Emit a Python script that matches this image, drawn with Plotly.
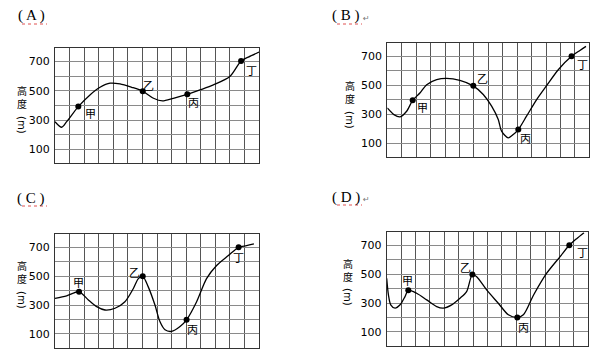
import plotly.graph_objects as go

# ---- data (x in grid-column units, y = height in m) ----
a_x = [0, 0.46, 0.8, 1.6, 2.4, 3.09, 3.78, 4.46, 5.26, 6.02, 6.76, 7.37, 8.12, 9.08, 9.95, 10.87, 12.0, 12.77, 13.27, 14]
a_y = [289, 251, 289, 392, 472, 524, 552, 547, 524, 497, 449, 431, 449, 476, 506, 540, 597, 703, 730, 764]
a_pts_x = [1.6, 6.02, 9.08, 12.77]
a_pts_y = [392, 497, 476, 703]

b_x = [0, 0.46, 0.88, 1.34, 1.76, 2.26, 2.73, 3.42, 4.11, 5.03, 5.96, 6.65, 7.23, 7.69, 7.92, 8.38, 8.73, 9.08, 9.65, 10.35, 11.04, 11.85, 12.77, 13.35, 13.77]
b_y = [345, 299, 283, 322, 397, 448, 505, 540, 549, 535, 497, 437, 357, 265, 185, 139, 162, 196, 288, 402, 498, 608, 700, 741, 769]
b_pts_x = [1.76, 5.96, 9.08, 12.77]
b_pts_y = [397, 497, 196, 700]

c_x = [0, 0.8, 1.65, 2.29, 2.86, 3.43, 4.12, 4.8, 5.38, 5.72, 6.02, 6.4, 6.86, 7.2, 7.55, 8.0, 8.58, 9.03, 9.72, 10.4, 11.09, 11.9, 12.6, 13.15, 13.65]
c_y = [346, 364, 392, 335, 289, 266, 278, 323, 415, 483, 499, 426, 300, 186, 129, 118, 152, 198, 323, 483, 574, 643, 700, 711, 723]
c_pts_x = [1.65, 6.02, 9.03, 12.6]
c_pts_y = [392, 499, 198, 700]

d_x = [0, 0.12, 0.28, 0.58, 0.93, 1.27, 1.5, 2.08, 2.78, 3.47, 3.93, 4.51, 5.09, 5.55, 5.95, 6.25, 6.94, 7.75, 8.45, 9.07, 9.49, 10.2, 11.1, 12.03, 12.68, 13.19, 13.7]
d_y = [471, 357, 288, 265, 288, 345, 389, 368, 322, 276, 265, 288, 334, 379, 498, 482, 391, 299, 219, 201, 219, 356, 505, 620, 700, 746, 787]
d_pts_x = [1.5, 5.95, 9.07, 12.68]
d_pts_y = [389, 498, 201, 700]

point_names = ["甲", "乙", "丙", "丁"]
panel_titles = ["( A )", "( B )", "( C )", "( D )"]
y_tickvals = [100, 200, 300, 400, 500, 600, 700]
y_ticktext = ["100", "", "300", "", "500", "", "700"]

# the page body has an 8px default margin; size the figure to the remaining area
OFF = 8
W, H = 600 - OFF, 357 - OFF
def px(x): return (x - OFF) / W
def py(y): return 1 - (y - OFF) / H

# panel geometry (window pixels): left, right, top, bottom
panels = [
    dict(x=a_x, y=a_y, px_=a_pts_x, py_=a_pts_y, box=(55, 259, 48.3, 163.3),
         offs=[(12, -6), (6, 6), (6, -8), (10, -9)],
         title=(31, 16), ytitle=(22, 97, 125), enter=False),
    dict(x=b_x, y=b_y, px_=b_pts_x, py_=b_pts_y, box=(387.3, 589.3, 43.3, 157.3),
         offs=[(10, -7), (9, 8), (7, -8), (11, -8)],
         title=(346, 16), ytitle=(350, 92, 120), enter=True),
    dict(x=c_x, y=c_y, px_=c_pts_x, py_=c_pts_y, box=(55, 259, 234.3, 347.7),
         offs=[(-1, 10), (-8, 4), (6, -9), (0, -10)],
         title=(31, 198), ytitle=(22, 272, 300), enter=False),
    dict(x=d_x, y=d_y, px_=d_pts_x, py_=d_pts_y, box=(386.7, 588.3, 232.3, 345.7),
         offs=[(-1, 10), (-7, 7), (6, -10), (13, -7)],
         title=(346, 197), ytitle=(348, 270, 297), enter=True),
]

fig = go.Figure()
annotations = []
shapes = []
layout = {}
cjk = "Noto Sans CJK TC"

def ann(x, y, text, size, family, color="black", **kw):
    d = dict(x=x, y=y, text=text, showarrow=False, xanchor="center", yanchor="middle",
             font=dict(family=family, size=size, color=color))
    d.update(kw)
    return d

for i, p in enumerate(panels):
    n = "" if i == 0 else str(i + 1)
    xa, ya = "x" + n, "y" + n
    l, r, t, b = p["box"]
    fig.add_trace(go.Scatter(x=p["x"], y=p["y"], mode="lines", xaxis=xa, yaxis=ya,
                             line=dict(color="black", width=1.3, shape="spline", smoothing=0.8),
                             hoverinfo="skip", showlegend=False))
    fig.add_trace(go.Scatter(x=p["px_"], y=p["py_"], mode="markers", xaxis=xa, yaxis=ya,
                             marker=dict(color="black", size=6), showlegend=False))
    layout["xaxis" + n] = dict(domain=[px(l), px(r)], range=[0, 14], anchor=ya,
                               tickmode="array", tickvals=list(range(15)), showticklabels=False,
                               showgrid=True, gridcolor="#555", gridwidth=1, zeroline=False,
                               showline=True, mirror=True, linecolor="#333", linewidth=1, ticks="")
    layout["yaxis" + n] = dict(domain=[py(b), py(t)], range=[5, 790], anchor=xa,
                               tickmode="array", tickvals=y_tickvals, ticktext=y_ticktext,
                               showgrid=True, gridcolor="#8a8a8a", gridwidth=1, zeroline=False,
                               showline=True, mirror=True, linecolor="#333", linewidth=1, ticks="",
                               tickfont=dict(family="DejaVu Sans", size=11, color="black"),
                               ticklabelstandoff=2)
    for name, xv, yv, (dx, dy) in zip(point_names, p["px_"], p["py_"], p["offs"]):
        annotations.append(ann(xv, yv, name, 11, cjk, xref=xa, yref=ya, xshift=dx, yshift=dy))
    # panel title
    tx, ty = p["title"]
    annotations.append(ann(px(tx), py(ty), panel_titles[i], 15, "Liberation Serif",
                           xref="paper", yref="paper"))
    shapes.append(dict(type="line", xref="paper", yref="paper", x0=px(tx - 9), x1=px(tx + 16),
                       y0=py(ty + 8), y1=py(ty + 8), line=dict(color="#e05050", width=1, dash="dot")))
    if p["enter"]:
        annotations.append(ann(px(tx + 20), py(ty + 2), "↵", 8, "DejaVu Sans", "#777",
                               xref="paper", yref="paper"))
    # vertical axis title 高度(m)
    ax_, y_cjk, y_unit = p["ytitle"]
    annotations.append(ann(px(ax_), py(y_cjk), "高<br>度", 10, cjk, xref="paper", yref="paper"))
    annotations.append(ann(px(ax_), py(y_unit), "(m)", 10, "DejaVu Sans", xref="paper", yref="paper",
                           textangle=90))

fig.update_layout(**layout)
fig.update_layout(width=W, height=H, margin=dict(l=0, r=0, t=0, b=0),
                  paper_bgcolor="white", plot_bgcolor="white",
                  annotations=annotations, shapes=shapes, showlegend=False)
fig.write_html("out.html")
